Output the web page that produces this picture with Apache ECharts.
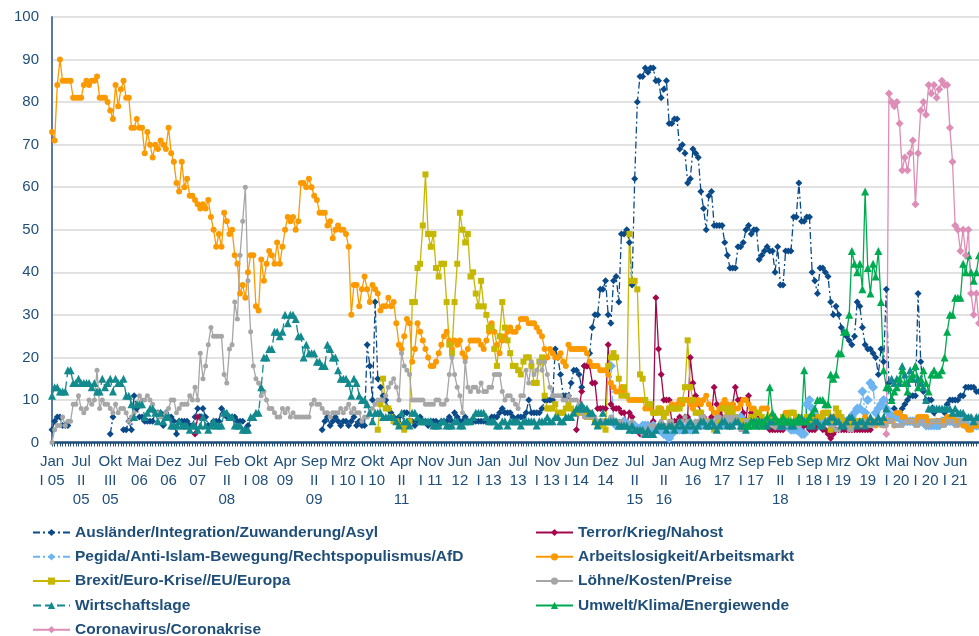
<!DOCTYPE html>
<html>
<head>
<meta charset="utf-8">
<script src="https://cdn.jsdelivr.net/npm/echarts@6/dist/echarts.min.js"></script>
<style>
  html, body { margin: 0; padding: 0; background: #fff; }
  #div1 { width: 979px; height: 636px; }
</style>
</head>
<body>
<div id="div1"></div>
<script>
var N = 351;

// put value blocks at their start index, everything else stays empty
function seg(parts) {
  var out = [];
  for (var i = 0; i < N; i++) out.push(null);
  parts.forEach(function (p) {
    for (var j = 0; j < p[1].length; j++) out[p[0] + j] = p[1][j];
  });
  return out;
}

var tickLabels = ['Jan\nI 05', 'Jul\nII\n05', 'Okt\nIII\n05', 'Mai\n06', 'Dez\n06', 'Jul\n07', 'Feb\nII\n08', 'Okt\nI 08',
  'Apr\n09', 'Sep\nII\n09', 'Mrz\nI 10', 'Okt\nI 10', 'Apr\nII\n11', 'Nov\nI 11', 'Jun\n12', 'Jan\nI 13', 'Jul\n13',
  'Nov\nI 13', 'Jun\nI 14', 'Dez\n14', 'Jul\nII\n15', 'Jan\nII\n16', 'Aug\n16', 'Mrz\n17', 'Sep\nI 17', 'Feb\nII\n18',
  'Sep\nI 18', 'Mrz\nI 19', 'Okt\n19', 'Mai\nI 20', 'Nov\nI 20', 'Jun\nI 21'];

var categories = [];
for (var c = 0; c < N; c++) categories.push('W' + c);

var auslaender = seg([
  [0, [3, 5, 6, 6, 4, 4, 4]],
  [22, [2, 6]],
  [27, [3, 3, 5, 3, 11, 8, 6, 6, 5, 5, 5, 5, 7,
    7, 7, 4, 7, 6, 6, 5, 2, 5, 5,
    5, 5, 4, 4, 6, 8, 6, 8, 6, 4,
    4, 5, 5, 5, 8, 7, 6, 6, 6, 6,
    5, 5, 5, 3, 4]],
  [102, [3, 5, 6, 4, 5, 6, 5, 4,
    5, 5, 4, 5, 6, 4, 5, 4, 4, 23,
    18, 10, 33, 15, 13, 11, 10, 8, 7, 6,
    5, 6, 4, 7, 7, 5, 5, 4, 5, 6,
    5, 5, 4, 5, 5, 5, 4, 5, 5, 5,
    6, 5, 7, 6, 5, 5, 6, 5, 5, 5,
    5, 5, 5, 5, 5, 5, 6, 6, 6, 7,
    8, 7, 7, 7, 6, 5, 6, 6, 6, 7,
    10, 7, 7, 7, 7, 8, 10, 10, 10, 10,
    22, 20, 16, 11, 11, 11, 14, 17, 17, 16,
    13, 18, 18, 21, 27, 30, 30, 36, 36, 38,
    30, 28, 38, 39, 33, 49, 49, 50, 47, 37,
    62, 80, 86, 86, 88, 87, 88, 88, 85, 85,
    81, 83, 85, 75, 75, 76, 76, 69, 70, 68,
    61, 62, 69, 68, 67, 59, 55, 50, 58, 59,
    51, 51, 51, 51, 47, 44, 41, 41, 41, 46,
    46, 47, 50, 51, 49, 50, 50, 43, 44, 45,
    46, 45, 45, 40, 46, 37, 37, 45, 45, 45,
    53, 53, 61, 52, 52, 53, 53, 40, 38, 35,
    41, 41, 40, 39, 33, 30, 32, 30, 27, 26,
    25, 24, 23, 25, 33, 32, 27, 23, 22, 22,
    21, 20, 16, 22, 19, 36, 14, 10, 8, 7,
    7, 8, 9, 10, 11, 11, 11, 35, 19, 12,
    10, 10, 10, 7, 5, 5, 5, 7, 9, 10,
    10, 10, 10, 11, 11, 13, 13, 13, 13, 12, 12]]
]);

var terror = seg([
  [54, [2, 6]],
  [198, [3, 8, 12, 18, 18, 18, 14, 14, 8, 8, 8, 8,
    23, 9, 8, 8, 8, 7, 7, 4, 7, 6,
    4, 3, 2, 2, 2, 3, 4, 5, 34, 22,
    16, 10, 10, 10, 5, 5, 5, 6, 5, 6,
    6, 20, 14, 11, 9, 7, 6, 5, 5, 6,
    13, 9, 7, 6, 5, 5, 7, 9, 13, 10,
    10, 7, 5, 11, 7, 6, 6, 5, 5, 4,
    4, 3, 3, 3, 3, 3, 3, 4, 4, 4,
    5, 4, 3, 3, 4, 4, 3, 3, 3, 4,
    4, 3, 3, 2, 1, 2, 3, 3, 3, 3,
    3, 3, 3, 3, 3, 3, 3, 3, 3, 3]]
]);

var pegida = seg([
  [211, [18, 5, 4, 4, 4, 5, 4, 4, 3, 4,
    3, 3, 4, 4, 4, 3, 4, 3, 3, 3,
    2, 2, 1, 2, 3, 3, 3, 3, 3, 4,
    3, 3, 4, 4, 4, 5, 4, 4, 4, 4,
    5, 5, 4, 5, 5, 6, 5, 5, 5, 6,
    5, 4, 5, 5, 5, 5, 4, 5, 5, 5,
    5, 5, 4, 4, 4, 4, 4, 4, 3, 3,
    3, 3, 2, 2, 9, 10, 8, 6, 6, 5,
    5, 5, 5, 5, 5, 5, 5, 5, 5, 5,
    5, 6, 7, 8, 8, 12, 7, 10, 14, 13,
    7, 8, 9, 10, 8, 7, 6, 6, 6, 6,
    5, 5, 5, 5, 5, 5, 5, 5, 5, 4,
    4, 4, 4, 4, 4, 5, 5, 5, 5, 5,
    5, 5, 5, 5, 4, 4, 4, 4, 4, 4]]
]);

var arbeit = [73, 71, 84, 90, 85, 85, 85, 85, 81, 81,
  81, 81, 84, 85, 84, 85, 85, 86, 81, 81,
  81, 80, 78, 76, 84, 79, 83, 85, 81, 81,
  74, 74, 76, 74, 74, 68, 73, 70, 67, 70,
  69, 71, 70, 69, 74, 68, 66, 61, 59, 66,
  60, 62, 58, 58, 57, 56, 55, 56, 55, 57,
  53, 50, 46, 49, 46, 54, 52, 49, 50, 44,
  42, 35, 37, 34, 40, 44, 44, 32, 31, 43,
  38, 42, 45, 44, 42, 47, 42, 46, 50, 53,
  52, 53, 50, 52, 61, 61, 60, 62, 60, 58,
  57, 54, 54, 54, 51, 52, 48, 50, 51, 50,
  50, 49, 46, 30, 37, 37, 32, 36, 39, 36,
  33, 37, 36, 35, 31, 32, 32, 34, 32, 33,
  28, 23, 22, 25, 29, 28, 19, 22, 28, 26,
  24, 22, 20, 18, 18, 19, 21, 23, 25, 26,
  24, 22, 24, 23, 24, 21, 20, 22, 24, 24,
  24, 24, 23, 22, 24, 26, 28, 26, 23, 21,
  24, 25, 26, 27, 26, 26, 27, 29, 29, 29,
  28, 28, 28, 27, 26, 25, 22, 20, 22, 21,
  20, 20, 21, 19, 18, 23, 22, 22, 22, 22,
  22, 22, 21, 19, 18, 18, 18, 17, 17, 17,
  16, 14, 13, 12, 12, 13, 12, 11, 10, 10,
  10, 10, 10, 10, 8, 8, 8, 7, 7, 8,
  8, 7, 7, 8, 9, 8, 9, 10, 9, 10,
  10, 9, 8, 9, 10, 9, 10, 11, 9, 8,
  7, 7, 8, 9, 10, 9, 8, 9, 8, 8,
  9, 10, 10, 9, 8, 8, 7, 7, 8, 8,
  8, 6, 5, 5, 5, 5, 6, 7, 7, 7,
  7, 6, 6, 5, 5, 5, 5, 6, 6, 6,
  6, 7, 7, 7, 6, 6, 6, 6, 6, 5,
  5, 5, 5, 5, 5, 5, 5, 6, 5, 5,
  5, 4, 5, 5, 4, 5, 5, 5, 4, 7,
  7, 6, 6, 5, 5, 5, 5, 6, 6, 6,
  6, 5, 5, 5, 5, 5, 5, 5, 6, 6,
  6, 5, 5, 5, 4, 4, 3, 3, 4, 4, 4];

var brexit = seg([
  [123, [3, 9, 15, 8, 8, 6, 5,
    5, 4, 4, 3, 4, 5, 33, 33, 41, 42,
    51, 63, 49, 46, 49, 41, 39, 42, 42, 33,
    23, 21, 33, 42, 54, 50, 47, 49, 39, 40,
    35, 32, 38, 32, 30, 27, 27, 22, 18, 25,
    33, 27, 24, 21, 18, 18, 17, 16, 19, 20,
    20, 18, 14, 14, 19, 20, 11, 8, 8, 8,
    9, 7, 7, 7, 8, 9, 8, 7, 7, 7,
    7, 7, 6, 7, 6, 5, 4, 4, 5, 3,
    18, 20, 21, 20, 15, 11, 13, 11, 49, 38,
    38, 36, 16, 15, 10, 9, 9, 7, 7, 8,
    7, 6, 7, 8, 8, 8, 8, 8, 10, 13,
    24, 13, 10, 7, 7, 7, 5, 5, 4, 4,
    3, 3, 5, 8, 8, 7, 8, 7, 6, 5,
    5, 5, 5, 5, 6, 6, 7, 7, 6, 5,
    5, 6, 5, 4, 5, 5, 6, 6, 6, 7,
    7, 6, 5, 5, 5, 6, 5, 4, 5, 5,
    6, 6, 7, 7, 3, 5, 8, 7, 6, 5,
    5, 4, 4, 4, 5, 5, 5, 4]]
]);

var loehne = [0, 3, 4, 4, 6, 4, 5, 5, 9, 9,
  11, 8, 7, 8, 10, 9, 10, 17, 8, 10,
  9, 9, 8, 7, 9, 7, 8, 8, 7, 5,
  6, 7, 9, 11, 10, 10, 11, 10, 9, 7,
  7, 6, 6, 7, 8, 10, 10, 7, 8, 9,
  9, 9, 11, 10, 13, 10, 21, 15, 18, 23,
  27, 25, 25, 25, 25, 16, 14, 22, 23, 33,
  29, 44, 52, 60, 38, 26, 18, 15, 14, 11,
  12, 10, 8, 8, 7, 6, 6, 8, 7, 8,
  6, 7, 6, 6, 6, 6, 6, 6, 9, 10,
  9, 9, 8, 7, 7, 6, 7, 7, 7, 8,
  7, 8, 9, 7, 8, 7, 7, 5, 6, 6,
  7, 8, 9, 10, 10, 10, 11, 13, 14, 15,
  13, 10, 21, 18, 17, 16, 10, 10, 10, 10,
  10, 9, 9, 9, 9, 10, 10, 9, 9, 10,
  16, 20, 16, 13, 11, 7, 19, 13, 12, 13,
  13, 12, 14, 12, 12, 13, 13, 16, 16, 16,
  12, 10, 11, 11, 10, 9, 8, 11, 11, 17,
  14, 19, 16, 17, 19, 17, 19, 16, 13, 11,
  11, 11, 11, 10, 10, 11, 10, 10, 10, 9,
  7, 6, 6, 6, 6, 6, 5, 5, 5, 5,
  5, 6, 5, 5, 5, 5, 4, 4, 4, 5,
  3, 3, 3, 2, 3, 3, 4, 4, 3, 4,
  5, 4, 4, 5, 5, 4, 4, 5, 5, 6,
  5, 5, 4, 5, 5, 6, 6, 5, 5, 4,
  5, 6, 6, 5, 6, 6, 5, 6, 6, 5,
  3, 3, 5, 5, 5, 4, 5, 5, 4, 4,
  5, 5, 4, 4, 4, 5, 5, 4, 5, 5,
  5, 4, 4, 5, 5, 5, 4, 4, 5, 5,
  4, 4, 5, 5, 4, 4, 3, 3, 4, 4,
  4, 3, 3, 4, 4, 4, 5, 5, 4, 4,
  4, 5, 5, 4, 4, 4, 5, 5, 4, 4,
  4, 4, 5, 5, 5, 5, 4, 4, 5, 5,
  4, 4, 5, 5, 5, 5, 4, 4, 5, 5,
  5, 4, 4, 5, 5, 5, 6, 6, 5, 5, 5];

var wirtschaft = [11, 13, 13, 12, 12, 12, 17, 17, 14, 14,
  15, 14, 14, 14, 14, 13, 14, 12, 12, 15,
  13, 14, 15, 12, 15, 14, 14, 15, 11, 11,
  9, 6, 9, 9, 9, 6, 7, 8, 8, 7,
  5, 7, 5, 6, 6, 4, 4, 4, 5, 4,
  4, 4, 3, 4, 4, 3, 4, 6, 4, 3,
  4, 5, 4, 4, 4, 7, 7, 6, 6, 4,
  4, 4, 3, 3, 3, 6, 6, 7, 7, 13,
  20, 20, 22, 22, 26, 26, 25, 26, 30, 28,
  30, 30, 29, 25, 25, 20, 23, 21, 21, 21,
  19, 19, 18, 18, 23, 22, 20, 20, 17, 15,
  15, 15, 14, 11, 15, 14, 11, 10, 10, 9,
  7, 5, 7, 7, 7, 6, 6, 6, 6, 6,
  5, 4, 7, 5, 5, 4, 7, 7, 6, 5,
  5, 5, 5, 5, 4, 4, 4, 5, 5, 4,
  4, 4, 5, 5, 4, 4, 5, 5, 5, 6,
  7, 7, 7, 7, 6, 5, 5, 5, 4, 4,
  5, 5, 4, 5, 5, 5, 5, 4, 5, 5,
  5, 5, 5, 4, 5, 5, 5, 6, 5, 5,
  6, 6, 5, 5, 6, 6, 6, 7, 8, 8,
  9, 8, 8, 7, 7, 5, 4, 5, 7, 5,
  5, 5, 5, 5, 4, 4, 4, 4, 3, 4,
  3, 3, 3, 3, 2, 3, 2, 2, 3, 4,
  4, 4, 3, 4, 4, 3, 4, 5, 4, 3,
  4, 5, 4, 3, 4, 5, 5, 4, 4, 5,
  4, 3, 4, 5, 5, 4, 4, 4, 5, 5,
  4, 4, 3, 4, 5, 5, 4, 5, 5, 4,
  4, 5, 5, 6, 5, 4, 4, 5, 5, 4,
  4, 5, 5, 6, 5, 5, 4, 4, 5, 5,
  4, 4, 5, 5, 6, 6, 5, 5, 4, 4,
  5, 6, 6, 5, 4, 5, 5, 4, 5, 6,
  5, 5, 6, 5, 6, 8, 13, 15, 14, 15,
  14, 18, 16, 14, 17, 15, 18, 15, 14, 13,
  10, 8, 8, 8, 8, 8, 8, 8, 8, 8,
  7, 8, 7, 7, 7, 6, 6, 6, 5, 6, 6];

var umwelt = seg([
  [262, [4, 4, 5, 4, 5, 5, 4, 5, 6,
    13, 7, 6, 5, 5, 6, 5, 5, 5, 5,
    5, 6, 5, 17, 5, 6, 7, 8, 10, 10,
    10, 9, 9, 16, 15, 16, 21, 21, 26, 26,
    30, 45, 42, 40, 42, 36, 59, 41, 35, 42,
    39, 45, 33, 17, 13, 13, 10, 12, 13, 15,
    17, 14, 12, 15, 16, 18, 13, 15, 17, 14,
    12, 16, 17, 16, 16, 17, 20, 26, 30, 30,
    34, 34, 34, 42, 40, 44, 40, 38, 40, 44]]
]);

var corona = seg([
  [315, [2, 82, 80, 79, 80, 75, 64, 67, 64, 68, 71, 56, 68, 78, 80, 77, 84, 82, 84, 81,
    83, 85, 84, 84, 74, 66, 51, 50, 45, 50, 44, 50, 35, 30, 35, 28]]
]);

var txtColor = '#1f4e79';
var font = '"Liberation Sans", Arial, sans-serif';

function line(name, data, color, symbol, size, dash) {
  return {
    name: name,
    type: 'line',
    data: data,
    symbol: symbol,
    symbolSize: size,
    showAllSymbol: true,
    connectNulls: false,
    color: color,
    itemStyle: { color: color },
    lineStyle: { color: color, width: 1.3, type: dash || 'solid' },
    emphasis: { disabled: true }
  };
}

var legendText = { fontSize: 15.5, fontWeight: 'bold', color: txtColor, fontFamily: font };

var mCharts1 = echarts.init(document.getElementById('div1'));
var option1 = {
  animation: false,
  textStyle: { fontFamily: font },
  grid: { left: 52, right: 0, top: 17, bottom: 193.5 },
  legend: [{
    data: ['Ausländer/Integration/Zuwanderung/Asyl', 'Pegida/Anti-Islam-Bewegung/Rechtspopulismus/AfD',
      'Brexit/Euro-Krise//EU/Europa', 'Wirtschaftslage', 'Coronavirus/Coronakrise'],
    orient: 'vertical', left: 27, top: 519.5, height: 160,
    itemWidth: 37, itemHeight: 9, itemGap: 8.3,
    textStyle: legendText
  }, {
    data: ['Terror/Krieg/Nahost', 'Arbeitslosigkeit/Arbeitsmarkt', 'Löhne/Kosten/Preise', 'Umwelt/Klima/Energiewende'],
    orient: 'vertical', left: 530, top: 519.5, height: 160,
    itemWidth: 37, itemHeight: 9, itemGap: 8.3,
    textStyle: legendText
  }],
  xAxis: {
    type: 'category',
    boundaryGap: false,
    data: categories,
    axisLine: { lineStyle: { color: '#1f4e79', width: 2.5 } },
    axisTick: { show: true, interval: 0, length: 4, lineStyle: { color: '#1f4e79', width: 1 } },
    axisLabel: {
      interval: 10,
      margin: 10,
      color: txtColor,
      fontSize: 15,
      lineHeight: 19,
      fontFamily: font,
      formatter: function (value, index) {
        return tickLabels[index / 11] || '';
      }
    },
    splitLine: { show: false }
  },
  yAxis: {
    type: 'value',
    min: 0, max: 100, interval: 10,
    axisLine: { show: true, lineStyle: { color: '#5b7aa3', width: 2 } },
    axisTick: { show: false },
    axisLabel: { color: txtColor, fontSize: 15, margin: 13, fontFamily: font },
    splitLine: { lineStyle: { color: '#d9d9d9', width: 1.5 } }
  },
  series: [
    line('Ausländer/Integration/Zuwanderung/Asyl', auslaender, '#0b4a88', 'diamond', 7, [7, 3, 2, 3]),
    line('Terror/Krieg/Nahost', terror, '#a3084c', 'diamond', 7),
    line('Pegida/Anti-Islam-Bewegung/Rechtspopulismus/AfD', pegida, '#6cb4f2', 'diamond', 10, [7, 3, 2, 3]),
    line('Arbeitslosigkeit/Arbeitsmarkt', arbeit, '#fb9a00', 'circle', 6),
    line('Brexit/Euro-Krise//EU/Europa', brexit, '#c6b700', 'rect', 6),
    line('Löhne/Kosten/Preise', loehne, '#a6a6a6', 'circle', 5),
    line('Wirtschaftslage', wirtschaft, '#138a8d', 'triangle', 8, [8, 4]),
    line('Umwelt/Klima/Energiewende', umwelt, '#00aa50', 'triangle', 8),
    line('Coronavirus/Coronakrise', corona, '#dd8eb7', 'diamond', 8)
  ]
};
mCharts1.setOption(option1);
</script>
</body>
</html>
